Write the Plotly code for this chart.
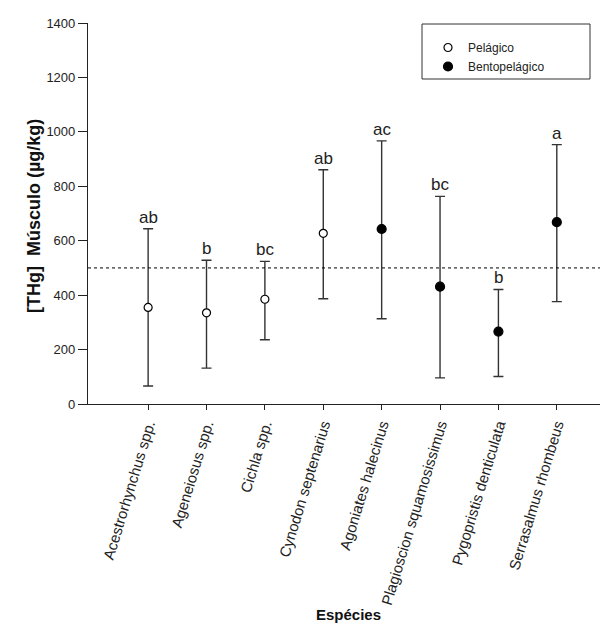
import plotly.graph_objects as go

species = ["Acestrorhynchus spp.", "Ageneiosus spp.", "Cichla spp.", "Cynodon septenarius",
           "Agoniates halecinus", "Plagioscion squamosissimus", "Pygopristis denticulata",
           "Serrasalmus rhombeus"]
habitat = ["Pelágico", "Pelágico", "Pelágico", "Pelágico",
           "Bentopelágico", "Bentopelágico", "Bentopelágico", "Bentopelágico"]
mean_vals = [355, 335, 385, 627, 643, 431, 266, 668]
upper_vals = [644, 528, 524, 861, 967, 763, 421, 953]
lower_vals = [66, 132, 236, 387, 313, 96, 101, 376]
letters = ["ab", "b", "bc", "ab", "ac", "bc", "b", "a"]
ref_level = 500
y_ticks = [0, 200, 400, 600, 800, 1000, 1200, 1400]

FONT = "Liberation Sans, Arial, sans-serif"
OFF = 8  # browser default body margin
W, H = 600, 629
L, R, T, B = 80, 8, 15, 233
PW, PH = W - L - R, H - T - B

def px(x):  # page pixel -> paper
    return (x - OFF - L) / PW

def py(y):
    return (H - B - (y - OFF)) / PH

fig = go.Figure()
for name, fill, msize in [("Pelágico", "white", 8), ("Bentopelágico", "black", 9)]:
    idx = [i for i, h in enumerate(habitat) if h == name]
    fig.add_trace(go.Scatter(
        x=[i for i in idx], y=[mean_vals[i] for i in idx], mode="markers", name=name,
        marker=dict(size=msize, color=fill, line=dict(color="black", width=1.2)),
        error_y=dict(type="data", symmetric=False,
                     array=[upper_vals[i] - mean_vals[i] for i in idx],
                     arrayminus=[mean_vals[i] - lower_vals[i] for i in idx],
                     color="#333333", thickness=1.4, width=5),
    ))

for i, lt in enumerate(letters):
    fig.add_annotation(x=i, y=upper_vals[i], text=lt, showarrow=False, yanchor="bottom",
                       yshift=0, font=dict(family=FONT, size=17, color="#222222"))

fig.add_hline(y=ref_level, line=dict(color="black", width=1, dash="dot"))

# legend box
fig.add_shape(type="rect", xref="paper", yref="paper", x0=px(422), x1=px(590),
              y0=py(79), y1=py(24), line=dict(color="#333333", width=1), fillcolor="rgba(0,0,0,0)")

fig.add_annotation(xref="paper", yref="paper", x=px(88 + 256 + 4), y=py(625), text="<b>Espécies</b>",
                   showarrow=False, font=dict(family=FONT, size=15, color="#111111"))
fig.add_annotation(xref="paper", yref="paper", x=px(22), y=py(216), textangle=-90,
                   text="<b>[THg]  Músculo (µg/kg)</b>", showarrow=False,
                   font=dict(family=FONT, size=18, color="#111111"))

fig.update_layout(
    width=W, height=H, margin=dict(l=L, r=R, t=T, b=B, autoexpand=False),
    plot_bgcolor="white", paper_bgcolor="white",
    font=dict(family=FONT, size=13, color="#222222"),
    showlegend=True,
    legend=dict(x=px(428), y=py(33), xanchor="left", yanchor="top", bgcolor="rgba(0,0,0,0)",
                borderwidth=0, font=dict(family=FONT, size=12, color="#222222"),
                itemwidth=30, tracegroupgap=0),
    xaxis=dict(range=[-1.03, 7.74], tickmode="array", tickvals=list(range(len(species))),
               ticktext=species, tickangle=-73, showline=True, linecolor="#222222", linewidth=1.2,
               ticks="outside", ticklen=5, tickcolor="#222222", showgrid=False, zeroline=False,
               tickfont=dict(family=FONT, size=15, color="#222222")),
    yaxis=dict(range=[0, 1400], tickvals=y_ticks, showline=True, linecolor="#222222", linewidth=1.2,
               ticks="outside", ticklen=9, tickcolor="#222222", showgrid=False, zeroline=False,
               tickfont=dict(family=FONT, size=13, color="#222222")),
)

fig.write_html("out.html")
